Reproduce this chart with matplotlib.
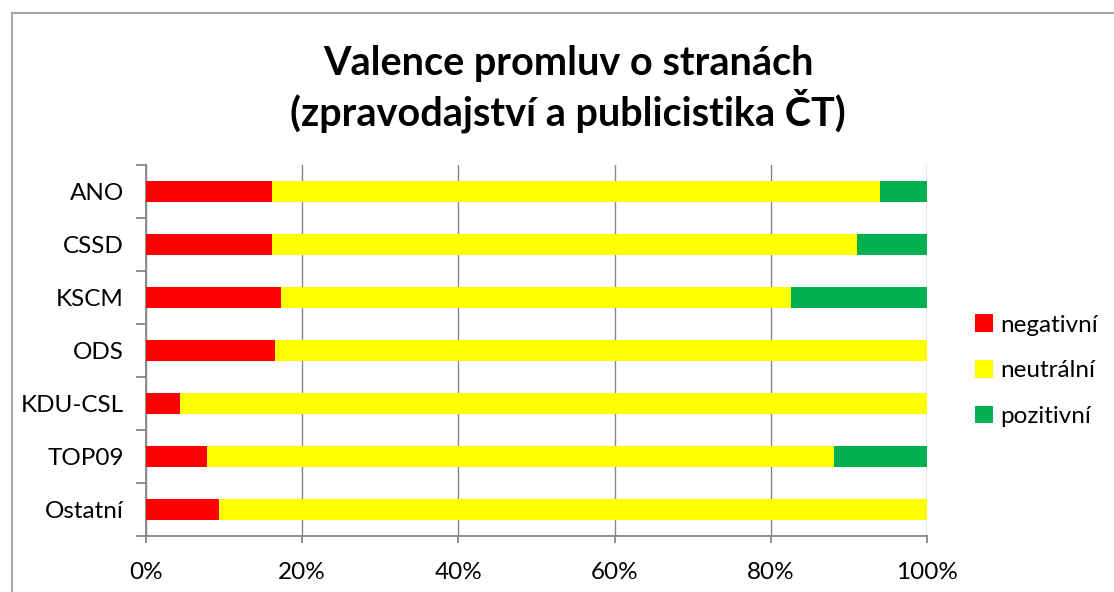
import numpy as np
import matplotlib.pyplot as plt
from matplotlib.patches import Rectangle

plt.rcParams['font.family'] = ['Lato', 'DejaVu Sans']

strany = ['ANO', 'CSSD', 'KSCM', 'ODS', 'KDU-CSL', 'TOP09', 'Ostatní']
negativni = [16.1, 16.1, 17.3, 16.5, 4.4, 7.8, 9.3]
neutralni = [77.9, 74.9, 65.3, 83.5, 95.6, 80.3, 90.7]
pozitivni = [6.0, 9.0, 17.4, 0.0, 0.0, 11.9, 0.0]

barvy = ['#FF0000', '#FFFF00', '#00B050']
nazvy = ['negativní', 'neutrální', 'pozitivní']

fig = plt.figure(figsize=(11.14, 5.92), dpi=100)
ax = fig.add_axes([146 / 1114, 56 / 592, 781 / 1114, 371 / 592])

y = np.arange(len(strany))[::-1]
left = np.zeros(len(strany))
for vals, c, n in zip([negativni, neutralni, pozitivni], barvy, nazvy):
    ax.barh(y, vals, left=left, height=0.38, color=c, label=n, zorder=3)
    left += np.array(vals)

ax.set_xlim(0, 100)
ax.set_ylim(-0.5, len(strany) - 0.5)
ax.set_xticks(np.arange(0, 101, 20))
ax.set_xticklabels([f'{v}%' for v in range(0, 101, 20)])
ax.set_yticks(y)
ax.set_yticklabels(strany)
ax.set_yticks(np.arange(-0.5, len(strany), 1), minor=True)
ax.tick_params(axis='y', which='major', length=0, pad=16, labelsize=17.5)
ax.tick_params(axis='y', which='minor', length=7, color='#868686', width=1.3)
ax.tick_params(axis='x', length=5, color='#868686', width=1.3, pad=14, labelsize=17.5)
ax.grid(axis='x', color='#868686', linewidth=1.0, zorder=0)
for s in ['top', 'right']:
    ax.spines[s].set_visible(False)
for s in ['left', 'bottom']:
    ax.spines[s].set_color('#868686')
    ax.spines[s].set_linewidth(1.3)

fig.text(0.510, 0.849, 'Valence promluv o stranách\n(zpravodajství a publicistika ČT)',
         ha='center', va='center', fontsize=28.5, fontweight='bold', linespacing=1.18)

ax.legend(loc='center left', bbox_to_anchor=(1.033, 0.446), frameon=False,
          fontsize=17.5, handlelength=0.75, handleheight=0.75, handletextpad=0.3,
          labelspacing=1.0)

fig.patches.append(Rectangle((12 / 1114, -0.1), 1.2, (592 - 13) / 592 + 0.1,
                             transform=fig.transFigure, fill=False,
                             edgecolor='#A6A6A6', linewidth=1.5))

fig.savefig('out.png', dpi=100)
